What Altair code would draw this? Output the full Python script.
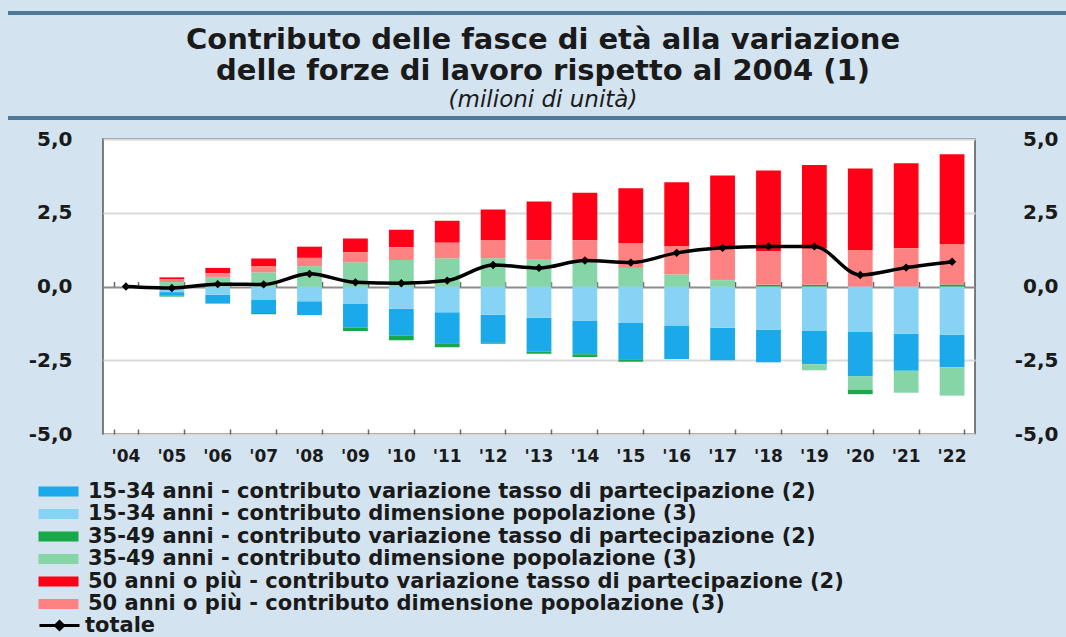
import altair as alt
import pandas as pd

years = ["'04", "'05", "'06", "'07", "'08", "'09", "'10", "'11", "'12", "'13",
         "'14", "'15", "'16", "'17", "'18", "'19", "'20", "'21", "'22"]

names = [
    "15-34 anni - contributo variazione tasso di partecipazione (2)",
    "15-34 anni - contributo dimensione popolazione (3)",
    "35-49 anni - contributo variazione tasso di partecipazione (2)",
    "35-49 anni - contributo dimensione popolazione (3)",
    "50 anni o più - contributo variazione tasso di partecipazione (2)",
    "50 anni o più - contributo dimensione popolazione (3)",
]
colors = ["#1aa9ea", "#86d3f5", "#17a84a", "#86d5a6", "#ff0016", "#ff8283"]

# 15-34 participation / population
y1534_part = [0, -0.12, -0.30, -0.46, -0.47, -0.81, -0.92, -1.05, -0.95, -1.14,
              -1.15, -1.24, -1.14, -1.10, -1.11, -1.15, -1.50, -1.26, -1.11]
y1534_pop = [0, -0.19, -0.28, -0.44, -0.50, -0.59, -0.75, -0.87, -0.96, -1.06,
             -1.15, -1.24, -1.32, -1.40, -1.46, -1.49, -1.54, -1.60, -1.63]
# 35-49
y3549_part = [0, -0.03, 0.0, -0.04, 0.0, -0.11, -0.15, -0.14, -0.03, -0.08,
              -0.09, -0.07, 0.0, 0.03, 0.06, 0.06, -0.16, 0.0, 0.07]
y3549_pop = [0, 0.15, 0.30, 0.48, 0.69, 0.82, 0.90, 0.96, 0.96, 0.91,
             0.93, 0.63, 0.41, 0.21, 0.0, -0.20, -0.45, -0.74, -0.96]
# 50+
y50_part = [0, 0.07, 0.18, 0.27, 0.38, 0.47, 0.59, 0.75, 1.05, 1.31,
            1.61, 1.87, 2.17, 2.48, 2.73, 2.84, 2.76, 2.88, 3.04]
y50_pop = [0, 0.09, 0.15, 0.20, 0.28, 0.34, 0.43, 0.52, 0.60, 0.66,
           0.64, 0.83, 0.95, 1.04, 1.14, 1.22, 1.24, 1.30, 1.37]
totale = [0, -0.05, 0.08, 0.07, 0.43, 0.14, 0.11, 0.20, 0.73, 0.63,
          0.88, 0.81, 1.14, 1.31, 1.36, 1.36, 0.39, 0.64, 0.84]

series = [y1534_part, y1534_pop, y3549_part, y3549_pop, y50_part, y50_pop]
stack_order = [1, 0, 3, 2, 5, 4]

rows = []
for k, (nm, vals) in enumerate(zip(names, series)):
    for i, yr in enumerate(years):
        rows.append({"anno": yr, "serie": nm, "valore": vals[i], "ordine": stack_order[k]})
bars_df = pd.DataFrame(rows)
tot_df = pd.DataFrame({"anno": years, "valore": totale, "s": ["totale"] * len(years)})

FONT = "DejaVu Sans"
lab_expr = "(datum.value < 0 ? '-' : '') + replace(format(abs(datum.value), '.1f'), '.', ',')"
ydom = alt.Scale(domain=[-5, 5], nice=False, zero=False)
xsc = alt.Scale(paddingInner=0.46, paddingOuter=0.23)

bars = alt.Chart(bars_df).mark_bar().encode(
    x=alt.X("anno:N", sort=years, scale=xsc,
            axis=alt.Axis(orient="bottom", title=None, ticks=False, domain=False,
                          labelAngle=0, labelFont=FONT, labelFontSize=17,
                          labelFontWeight="bold", labelColor="#1a1a1a", labelPadding=14)),
    y=alt.Y("valore:Q", stack="zero", scale=ydom,
            axis=alt.Axis(orient="left", title=None, values=[-5, -2.5, 0, 2.5, 5],
                          labelExpr=lab_expr, ticks=False, domain=False,
                          labelFont=FONT, labelFontSize=20, labelFontWeight="bold",
                          labelColor="#1a1a1a", labelPadding=2, offset=29,
                          labelAlign="right",
                          grid=True,
                          gridColor={"condition": {"test": "datum.value === 0", "value": "#8c8c8c"},
                                     "value": "#d9d9d9"},
                          gridWidth=2)),
    color=alt.Color("serie:N", scale=alt.Scale(domain=names, range=colors),
                    legend=alt.Legend(title=None, orient="none", legendX=-55, legendY=342,
                                      labelFont=FONT, labelFontSize=21, labelFontWeight="bold",
                                      labelColor="#1a1a1a",
                                      symbolType="M-2,-0.5L2,-0.5L2,0.5L-2,0.5Z",
                                      symbolSize=400, symbolStrokeWidth=0,
                                      rowPadding=0.5, padding=0, labelOffset=19,
                                      labelLimit=1000)),
    order=alt.Order("ordine:Q", sort="ascending"),
)

line = alt.Chart(tot_df).mark_line(strokeWidth=3.5, interpolate="monotone").encode(
    x=alt.X("anno:N", sort=years, scale=xsc,
            axis=alt.Axis(orient="top", offset=-147.5, labels=False, domain=False,
                          ticks=True, tickBand="extent", tickSize=5, tickColor="#666666",
                          tickWidth=1.5, title=None, grid=False)),
    y=alt.Y("valore:Q", scale=ydom,
            axis=alt.Axis(orient="right", title=None, values=[-5, -2.5, 0, 2.5, 5],
                          labelExpr=lab_expr, ticks=False, domain=False, grid=False,
                          labelFont=FONT, labelFontSize=20, labelFontWeight="bold",
                          labelColor="#1a1a1a", labelPadding=83, labelAlign="right")),
    stroke=alt.Stroke("s:N", scale=alt.Scale(domain=["totale"], range=["black"]),
                      legend=alt.Legend(title=None, orient="none", legendX=-55, legendY=475,
                                        labelFont=FONT, labelFontSize=21, labelFontWeight="bold",
                                        labelColor="#1a1a1a",
                                        symbolType="M-2,0L2,0M-0.4,0L0,-0.4L0.4,0L0,0.4Z",
                                        symbolSize=400, symbolStrokeWidth=3,
                                        symbolFillColor="black", symbolStrokeColor="black",
                                        padding=0, labelOffset=14)),
)

points = alt.Chart(tot_df).mark_point(shape="diamond", filled=True, size=70,
                                      color="black", opacity=1).encode(
    x=alt.X("anno:N", sort=years, scale=xsc,
            axis=alt.Axis(orient="top", offset=-295, labels=False, domain=False,
                          ticks=True, tickBand="extent", tickSize=5, tickColor="#666666",
                          tickWidth=1.5, title=None, grid=False)),
    y=alt.Y("valore:Q", scale=ydom, axis=None),
)

rule_top = alt.Chart(tot_df).mark_rule(color="#4d7a98", strokeWidth=3).encode(
    x=alt.value(-95), x2=alt.value(963), y=alt.value(-126))
rule_bot = alt.Chart(tot_df).mark_rule(color="#4d7a98", strokeWidth=3).encode(
    x=alt.value(-95), x2=alt.value(963), y=alt.value(-21))

chart = alt.layer(bars, line, points, rule_top, rule_bot).resolve_axis(
    x="independent", y="independent"
).resolve_legend(color="independent", stroke="independent").properties(
    width=872, height=295,
    autosize=alt.AutoSizeParams(type="none"),
    padding={"left": 103, "top": 139, "right": 91, "bottom": 203},
    background="#d3e3ef",
    title=alt.Title(
        text=["Contributo delle fasce di età alla variazione",
              "delle forze di lavoro rispetto al 2004 (1)"],
        subtitle="(milioni di unità)",
        font=FONT, fontSize=29, fontWeight="bold", color="#1a1a1a", lineHeight=31,
        subtitleFont=FONT, subtitleFontSize=23, subtitleFontStyle="italic",
        subtitleColor="#1a1a1a", subtitlePadding=3,
        anchor="middle", frame="group", offset=-100, dx=4,
    ),
).configure_view(fill="white", stroke="#555555", strokeWidth=1.5)

chart.save("out.html", embed_options={"renderer": "svg", "actions": False})
